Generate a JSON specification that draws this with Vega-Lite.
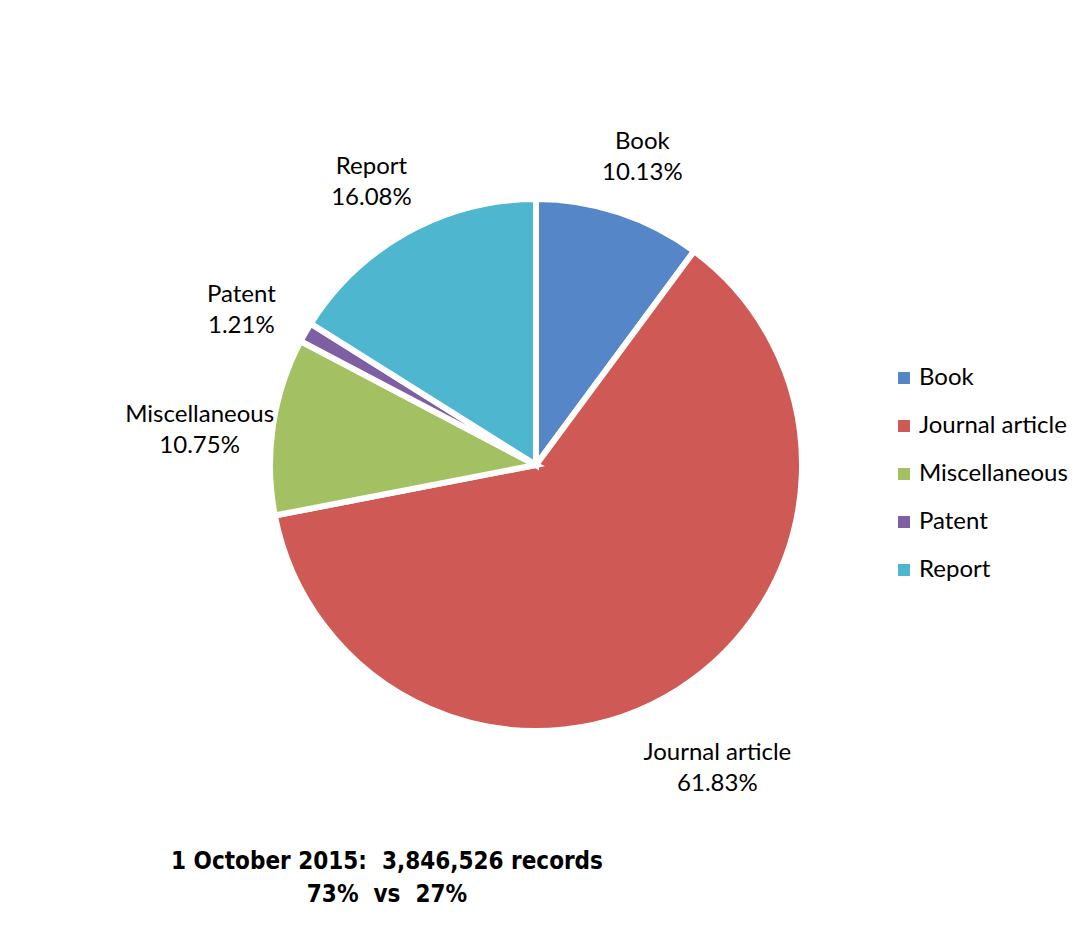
{
  "$schema": "https://vega.github.io/schema/vega-lite/v6.json",
  "width": 1072,
  "height": 930,
  "autosize": "none",
  "padding": 0,
  "background": "white",
  "config": {"view": {"stroke": null}},
  "data": {"values": [
    {"type": "Book", "pct": 10.13, "label": "Book\n10.13%"},
    {"type": "Journal article", "pct": 61.83, "label": "Journal article\n61.83%"},
    {"type": "Miscellaneous", "pct": 10.75, "label": "Miscellaneous\n10.75%"},
    {"type": "Patent", "pct": 1.21, "label": "Patent\n1.21%"},
    {"type": "Report", "pct": 16.08, "label": "Report\n16.08%"}
  ]},
  "title": {
    "text": ["1 October 2015:\u00a0 3,846,526 records", "73%\u00a0 vs\u00a0 27%"],
    "orient": "top",
    "anchor": "middle",
    "frame": "group",
    "offset": 0,
    "dx": -149,
    "dy": 907,
    "baseline": "top",
    "font": "DejaVu Sans Condensed, Liberation Sans Narrow, Arial Narrow, Liberation Sans",
    "fontSize": 24,
    "fontWeight": "bold",
    "lineHeight": 33,
    "color": "black"
  },
  "encoding": {
    "theta": {"field": "pct", "type": "quantitative", "stack": true}
  },
  "layer": [
    {
      "mark": {"type": "arc", "outerRadius": 266, "stroke": "white", "strokeWidth": 6},
      "encoding": {
        "color": {
          "field": "type",
          "type": "nominal",
          "scale": {
            "domain": ["Book", "Journal article", "Miscellaneous", "Patent", "Report"],
            "range": ["#5586C8", "#CF5955", "#A3C162", "#7F5FA3", "#4EB6CE"]
          },
          "legend": {
            "orient": "none",
            "legendX": 892,
            "legendY": 366,
            "title": null,
            "symbolType": "square",
            "symbolSize": 144,
            "symbolStrokeWidth": 0,
            "labelFontSize": 24,
            "labelFont": "Lato",
            "labelColor": "black",
            "labelOffset": 3,
            "rowPadding": 24
          }
        }
      }
    },
    {
      "mark": {"type": "text", "radius": 340, "fontSize": 24, "font": "Lato", "lineBreak": "\n", "lineHeight": 31, "color": "black", "align": "center", "baseline": "middle"},
      "encoding": {"text": {"field": "label"}}
    }
  ]
}
